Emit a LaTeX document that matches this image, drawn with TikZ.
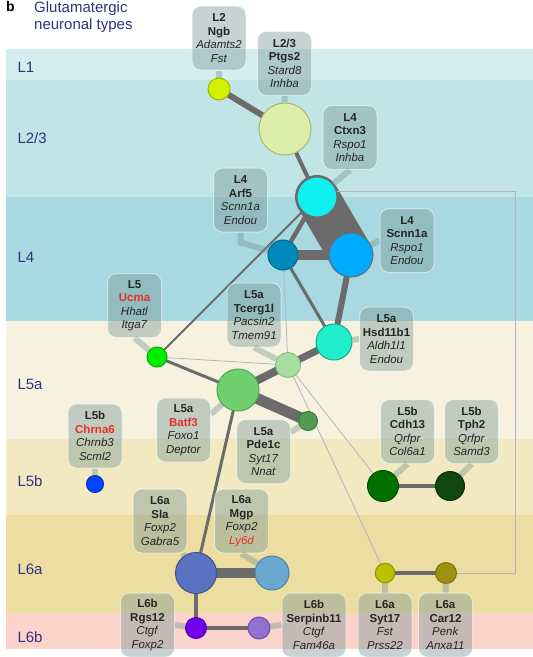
\documentclass[tikz,border=0pt]{standalone}
\usepackage{fontspec}
\setmainfont{Liberation Sans}
\usetikzlibrary{positioning}

\definecolor{bandA}{RGB}{212,238,238}
\definecolor{bandB}{RGB}{193,228,231}
\definecolor{bandC}{RGB}{168,216,224}
\definecolor{bandD}{RGB}{247,242,223}
\definecolor{bandE}{RGB}{242,233,193}
\definecolor{bandF}{RGB}{236,222,160}
\definecolor{bandG}{RGB}{252,211,203}
\definecolor{edgegray}{RGB}{107,107,107}
\definecolor{weakgray}{RGB}{180,180,196}
\definecolor{tagfill}{RGB}{120,150,150}
\definecolor{layerblue}{RGB}{48,50,130}
\definecolor{markred}{RGB}{232,48,42}

\pgfdeclarelayer{bands}
\pgfdeclarelayer{background}
\pgfsetlayers{bands,background,main}

\newcommand{\hl}[1]{\textcolor{markred}{#1}}
\newcommand{\celltype}[4]{\textbf{#1}\\\textbf{#2}\\\textit{#3}\\\textit{#4}}

\begin{document}
\begin{tikzpicture}[
        x=1pt, y=-1pt,
        cell/.style={circle, draw, line width=1pt, inner sep=0pt},
        tag/.style={rounded corners=9pt, fill=tagfill, fill opacity=0.42,
            draw=white, draw opacity=0.5, line width=1pt, text opacity=1,
            minimum width=54pt, minimum height=64pt, inner sep=3pt, align=center,
            font=\fontsize{11.5}{13.5}\selectfont, text=black!85},
        stem/.style={draw=tagfill, draw opacity=0.42, line width=6pt},
        link/.style={draw=edgegray},
        weak/.style={draw=weakgray, line width=0.8pt},
        layer/.style={anchor=base west, font=\fontsize{15}{18}\selectfont, text=layerblue}
    ]
        \useasboundingbox (0,0) rectangle (533,657);

        % layers
        \begin{pgfonlayer}{bands}
            \fill[bandA] (6,49) rectangle (533,80);
            \fill[bandB] (6,80) rectangle (533,197);
            \fill[bandC] (6,197) rectangle (533,321);
            \fill[bandD] (6,321) rectangle (533,439);
            \fill[bandE] (6,439) rectangle (533,515);
            \fill[bandF] (6,515) rectangle (533,613);
            \fill[bandG] (6,613) rectangle (533,649);
        \end{pgfonlayer}
        \node[layer] (l1) at (14,72) {L1};
        \node[layer] (l23) at (14,143) {L2/3};
        \node[layer] (l4) at (14,262.5) {L4};
        \node[layer] (l5a) at (14,389) {L5a};
        \node[layer] (l5b) at (14,486) {L5b};
        \node[layer] (l6a) at (14,574) {L6a};
        \node[layer] (l6b) at (14,642) {L6b};

        % title
        \node[anchor=base west, inner sep=0pt, font=\bfseries\fontsize{14}{14}\selectfont] (panel) at (6,11) {b};
        \node[anchor=north west, inner sep=0pt, align=left, text=layerblue,
            font=\fontsize{15}{17.5}\selectfont] (title) at (34,1) {Glutamatergic\\neuronal types};

        % labels
        \node[tag] (tngb) at (219,38) {\celltype{L2}{Ngb}{Adamts2}{Fst}};
        \node[tag] (tptgs2) at (284.5,63.5) {\celltype{L2/3}{Ptgs2}{Stard8}{Inhba}};
        \node[tag] (tctxn3) at (350,137.5) {\celltype{L4}{Ctxn3}{Rspo1}{Inhba}};
        \node[tag] (tarf5) at (240.5,200) {\celltype{L4}{Arf5}{Scnn1a}{Endou}};
        \node[tag] (tscnn1a) at (407,240.5) {\celltype{L4}{Scnn1a}{Rspo1}{Endou}};
        \node[tag] (tucma) at (134.5,305.5) {\celltype{L5}{\hl{Ucma}}{Hhatl}{Itga7}};
        \node[tag] (ttcerg) at (254,315) {\celltype{L5a}{Tcerg1l}{Pacsin2}{Tmem91}};
        \node[tag] (thsd) at (386.5,339) {\celltype{L5a}{Hsd11b1}{Aldh1l1}{Endou}};
        \node[tag] (tbatf3) at (183.5,430) {\celltype{L5a}{\hl{Batf3}}{Foxo1}{Deptor}};
        \node[tag] (tpde1c) at (263.5,451.5) {\celltype{L5a}{Pde1c}{Syt17}{Nnat}};
        \node[tag] (tchrna6) at (95,436) {\celltype{L5b}{\hl{Chrna6}}{Chrnb3}{Scml2}};
        \node[tag] (tcdh13) at (407.5,431.5) {\celltype{L5b}{Cdh13}{Qrfpr}{Col6a1}};
        \node[tag] (ttph2) at (471.5,431.5) {\celltype{L5b}{Tph2}{Qrfpr}{Samd3}};
        \node[tag] (tsla) at (160,521) {\celltype{L6a}{Sla}{Foxp2}{Gabra5}};
        \node[tag] (tmgp) at (241.5,521) {\celltype{L6a}{Mgp}{Foxp2}{\hl{Ly6d}}};
        \node[tag] (trgs12) at (147.5,625) {\celltype{L6b}{Rgs12}{Ctgf}{Foxp2}};
        \node[tag, minimum width=64pt] (tserp) at (314,625) {\celltype{L6b}{Serpinb11}{Ctgf}{Fam46a}};
        \node[tag] (tsyt17) at (385,625) {\celltype{L6a}{Syt17}{Fst}{Prss22}};
        \node[tag] (tcar12) at (445.5,625) {\celltype{L6a}{Car12}{Penk}{Anxa11}};

        % cell types
        \node[cell, fill={rgb,255:red,212;green,240;blue,0}, draw={rgb,255:red,160;green,184;blue,0}, minimum size=22pt] (ngb) at (219,89) {};
        \node[cell, fill={rgb,255:red,221;green,238;blue,170}, draw={rgb,255:red,170;green,184;blue,112}, minimum size=52pt] (ptgs2) at (285,129) {};
        \node[cell, fill={rgb,255:red,16;green,240;blue,240}, draw=edgegray, minimum size=40pt] (ctxn3) at (317,197) {};
        \node[cell, fill={rgb,255:red,0;green,136;blue,187}, draw={rgb,255:red,0;green,106;blue,144}, minimum size=30pt] (arf5) at (283,255) {};
        \node[cell, fill={rgb,255:red,0;green,170;blue,255}, draw=edgegray, minimum size=44pt] (scnn1a) at (351,255) {};
        \node[cell, fill={rgb,255:red,34;green,238;blue,204}, draw={rgb,255:red,16;green,176;blue,144}, minimum size=36pt] (hsd) at (334,342) {};
        \node[cell, fill={rgb,255:red,168;green,222;blue,160}, draw={rgb,255:red,128;green,192;blue,128}, minimum size=25pt] (tcerg) at (288,365) {};
        \node[cell, fill={rgb,255:red,112;green,208;blue,112}, draw={rgb,255:red,80;green,168;blue,80}, minimum size=42pt] (batf3) at (238,390) {};
        \node[cell, fill={rgb,255:red,85;green,153;blue,85}, draw={rgb,255:red,58;green,122;blue,58}, minimum size=19pt] (pde1c) at (308,421) {};
        \node[cell, fill={rgb,255:red,0;green,238;blue,0}, draw={rgb,255:red,0;green,170;blue,0}, minimum size=20pt] (ucma) at (157,357) {};
        \node[cell, fill={rgb,255:red,0;green,68;blue,255}, draw={rgb,255:red,0;green,48;blue,192}, minimum size=17pt] (chrna6) at (95,484) {};
        \node[cell, fill={rgb,255:red,0;green,112;blue,0}, draw={rgb,255:red,0;green,80;blue,0}, minimum size=31pt] (cdh13) at (383,486) {};
        \node[cell, fill={rgb,255:red,16;green,72;blue,16}, draw={rgb,255:red,10;green,48;blue,10}, minimum size=29pt] (tph2) at (450,486) {};
        \node[cell, fill={rgb,255:red,90;green,114;blue,192}, draw={rgb,255:red,62;green,80;blue,144}, minimum size=41pt] (sla) at (196,573) {};
        \node[cell, fill={rgb,255:red,106;green,168;blue,208}, draw={rgb,255:red,74;green,128;blue,168}, minimum size=34pt] (mgp) at (272,573) {};
        \node[cell, fill={rgb,255:red,112;green,0;blue,238}, draw={rgb,255:red,80;green,0;blue,176}, minimum size=21pt] (rgs12) at (196,628) {};
        \node[cell, fill={rgb,255:red,144;green,112;blue,208}, draw={rgb,255:red,112;green,80;blue,168}, minimum size=22pt] (serp) at (259,628) {};
        \node[cell, fill={rgb,255:red,184;green,192;blue,0}, draw={rgb,255:red,144;green,152;blue,0}, minimum size=19.5pt] (syt17) at (385,573) {};
        \node[cell, fill={rgb,255:red,160;green,144;blue,16}, draw={rgb,255:red,128;green,112;blue,16}, minimum size=21pt] (car12) at (446,573) {};

        \coordinate (rtop) at (515,191);
        \coordinate (rbot) at (515,573);

        \begin{pgfonlayer}{background}
            % links
            \draw[link, line width=6pt] (ngb.center) -- (ptgs2.center);
            \draw[link, line width=4pt] (ptgs2.center) -- (ctxn3.center);
            \draw[link, line width=44pt, line cap=round] (ctxn3.center) -- (scnn1a.center);
            \draw[link, line width=4.5pt] (ctxn3.center) -- (arf5.center);
            \draw[link, line width=10pt] (arf5.center) -- (scnn1a.center);
            \draw[link, line width=3pt] (arf5.center) -- (hsd.center);
            \draw[link, line width=6pt] (scnn1a.center) -- (hsd.center);
            \draw[link, line width=2pt] (ctxn3.center) -- (ucma.center);
            \draw[link, line width=7pt] (hsd.center) -- (tcerg.center);
            \draw[link, line width=8pt] (tcerg.center) -- (batf3.center);
            \draw[link, line width=11pt] (batf3.center) -- (pde1c.center);
            \draw[link, line width=3pt] (batf3.center) -- (ucma.center);
            \draw[link, line width=3pt] (batf3.center) -- (sla.center);
            \draw[link, line width=10pt] (sla.center) -- (mgp.center);
            \draw[link, line width=3.5pt] (sla.center) -- (rgs12.center);
            \draw[link, line width=4pt] (rgs12.center) -- (serp.center);
            \draw[link, line width=4pt] (cdh13.center) -- (tph2.center);
            \draw[link, line width=4.5pt] (syt17.center) -- (car12.center);
            \draw[weak] (ucma.center) -- (tcerg.center);
            \draw[weak] (arf5.center) -- (tcerg.center);
            \draw[weak] (tcerg.center) -- (cdh13.center);
            \draw[weak] (tcerg.center) -- (syt17.center);
            \draw[weak] (ctxn3.center |- rtop) -- (rtop) -- (rbot) -- (car12.center);

            % stems
            \draw[stem] (tngb.south) -- (ngb);
            \draw[stem] (tptgs2.south) -- (ptgs2);
            \draw[stem] (tctxn3.south) -- (ctxn3);
            \draw[stem] (tarf5.south) -- ++(0,10) -- (arf5);
            \draw[stem] (tscnn1a.west) -- (scnn1a);
            \draw[stem] (tucma.south) -- (ucma);
            \draw[stem] (ttcerg.south) -- (tcerg);
            \draw[stem] (thsd.west) -- (hsd);
            \draw[stem] (tbatf3.30) -- (batf3);
            \draw[stem] (tpde1c.35) -- (pde1c);
            \draw[stem] (tchrna6.south) -- (chrna6);
            \draw[stem] (tcdh13.south) -- (cdh13);
            \draw[stem] (ttph2.south) -- (tph2);
            \draw[stem] (tsla.-55) -- (sla);
            \draw[stem] (tmgp.south) -- (mgp);
            \draw[stem] (trgs12.east) -- (rgs12);
            \draw[stem] (tserp.west) -- (serp);
            \draw[stem] (tsyt17.north) -- (syt17);
            \draw[stem] (tcar12.north) -- (car12);
        \end{pgfonlayer}
    \end{tikzpicture}
\end{document}
